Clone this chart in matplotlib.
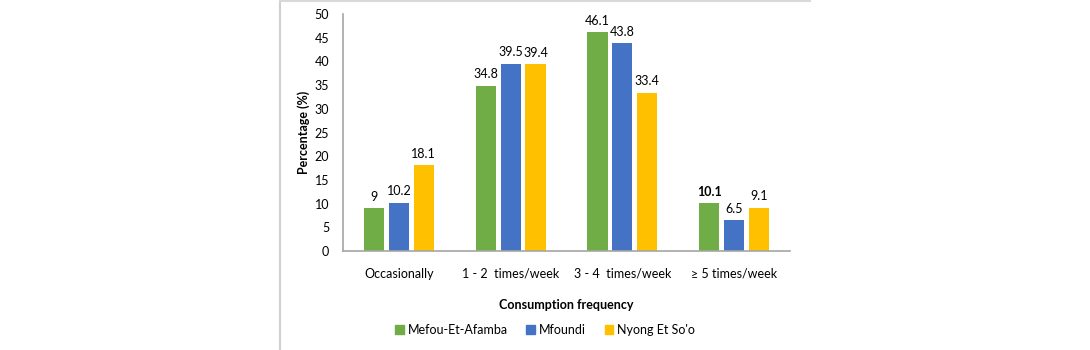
import matplotlib
matplotlib.use("Agg")
import matplotlib.pyplot as plt
import numpy as np
from matplotlib.lines import Line2D

categories = ["Occasionally", "1 - 2  times/week", "3 - 4  times/week", "\u2265 5 times/week"]
series_names = ["Mefou-Et-Afamba", "Mfoundi", "Nyong Et So'o"]
mefou = [9, 34.8, 46.1, 10.1]
mfoundi = [10.2, 39.5, 43.8, 6.5]
nyong = [18.1, 39.4, 33.4, 9.1]
label_texts = [["9", "34.8", "46.1", "10.1"],
               ["10.2", "39.5", "43.8", "6.5"],
               ["18.1", "39.4", "33.4", "9.1"]]
colors = ["#70AD47", "#4472C4", "#FFC000"]

plt.rcParams['font.family'] = ['Lato', 'DejaVu Sans']

W, H = 1090, 350
fig = plt.figure(figsize=(W / 100, H / 100), dpi=100)
ax = fig.add_axes([343 / W, 1 - 251 / H, (790 - 343) / W, (251 - 14) / H])

x = np.arange(len(categories))
bw = 0.18
step = 0.223
for i, (vals, c) in enumerate(zip([mefou, mfoundi, nyong], colors)):
    pos = x + (i - 1) * step
    ax.bar(pos, vals, width=bw, color=c, zorder=2)
    for j, (p, v) in enumerate(zip(pos, vals)):
        bold = (i == 0 and j == 3)
        ax.annotate(label_texts[i][j], (p, v), xytext=(0, 4), textcoords="offset points",
                    ha="center", va="bottom", fontsize=9,
                    fontweight="bold" if bold else "normal", color="#000000")

ax.set_xlim(-0.5, len(categories) - 0.5)
ax.set_ylim(0, 50)
ax.set_yticks(np.arange(0, 51, 5))
ax.set_xticks(x)
ax.set_xticklabels(categories, fontsize=9)
ax.tick_params(axis="y", labelsize=9, length=0, pad=10)
ax.tick_params(axis="x", length=0, pad=12)
for s in ["top", "right"]:
    ax.spines[s].set_visible(False)
for s in ["left", "bottom"]:
    ax.spines[s].set_color("#A6A6A6")
    ax.spines[s].set_linewidth(1.2)

ax.set_ylabel("Percentage (%)", fontsize=9, fontweight="bold", labelpad=3)
ax.set_xlabel("Consumption frequency", fontsize=9, fontweight="bold", labelpad=14)

handles = [plt.Rectangle((0, 0), 1, 1, color=c) for c in colors]
fig.legend(handles, series_names, loc="center", bbox_to_anchor=(545 / W, 1 - 330 / H),
           ncol=3, frameon=False, fontsize=9, handlelength=0.7, handleheight=0.7,
           handletextpad=0.3, columnspacing=1.5)

# outer frame lines
fig.add_artist(Line2D([280 / W, 280 / W], [0, 1], color="#D0D0D0", lw=1.5))
fig.add_artist(Line2D([280 / W, 810 / W], [1 - 1 / H, 1 - 1 / H], color="#D9D9D9", lw=1.5))

fig.savefig("out.png", dpi=100)
